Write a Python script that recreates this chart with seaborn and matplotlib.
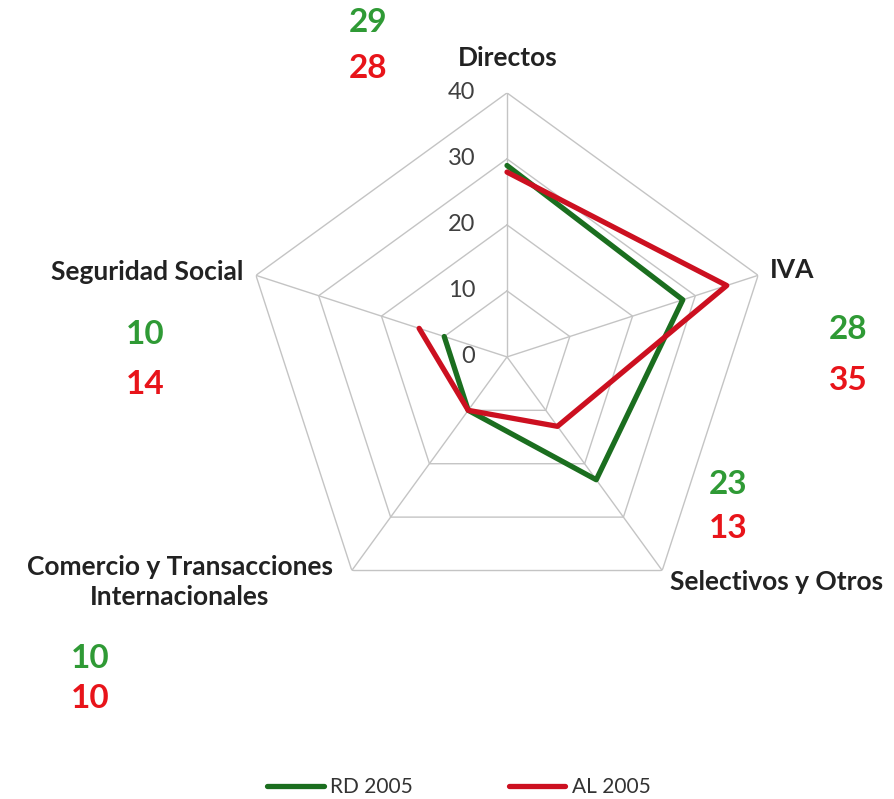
import matplotlib.pyplot as plt
import numpy as np
import pandas as pd
import seaborn as sns

sns.set_style('white')
plt.rcParams['font.family'] = ['Lato', 'DejaVu Sans']

categories = ['Directos', 'IVA', 'Selectivos y Otros',
              'Comercio y Transacciones\nInternacionales', 'Seguridad Social']
rd_2005 = [29, 28, 23, 10, 10]
al_2005 = [28, 35, 13, 10, 14]
series_names = ['RD 2005', 'AL 2005']
rings = [10, 20, 30, 40]
ring_labels = ['0', '10', '20', '30', '40']

line_colors = ['#1b6e1f', '#cc1020']
num_colors = ['#2f9a35', '#e8141a']

n = len(categories)
angles = np.linspace(0, 2 * np.pi, n, endpoint=False)
closed = np.append(angles, angles[0])

fig = plt.figure(figsize=(8.95, 7.99), dpi=100)
ax = fig.add_axes([0.2715, 0.2228, 0.590, 0.661], projection='polar')
ax.set_theta_offset(np.pi / 2)
ax.set_theta_direction(-1)
ax.set_ylim(0, 40)
ax.grid(False)
ax.spines['polar'].set_visible(False)
ax.set_xticks([])
ax.set_yticks([])

# polygon gridlines and spokes
for r in rings:
    ax.plot(closed, [r] * (n + 1), color='#c4c4c4', lw=1, zorder=1)
for a in angles:
    ax.plot([a, a], [0, 40], color='#c4c4c4', lw=1, zorder=1)

# radial tick labels
for i, lab in enumerate(ring_labels):
    ax.annotate(lab, (0, i * 10), xytext=(-23, 0), textcoords='offset points',
                ha='right', va='center', fontsize=17, color='#404040')

df = pd.DataFrame({
    'angle': np.concatenate([closed, closed]),
    'value': rd_2005 + rd_2005[:1] + al_2005 + al_2005[:1],
    'serie': [series_names[0]] * (n + 1) + [series_names[1]] * (n + 1),
})
sns.lineplot(data=df, x='angle', y='value', hue='serie', sort=False,
             palette=line_colors, lw=3.8, ax=ax, legend=False, zorder=3)
ax.set_xlabel('')
ax.set_ylabel('')

# category labels
lab_kw = dict(fontsize=19, color='#222222', fontweight='bold', va='center')
fig.text(508 / 895, 1 - 58 / 799, categories[0], ha='center', **lab_kw)
fig.text(770 / 895, 1 - 270 / 799, categories[1], ha='left', **lab_kw)
fig.text(670 / 895, 1 - 582 / 799, categories[2], ha='left', **lab_kw)
fig.text(180 / 895, 1 - 582 / 799, categories[3], ha='center',
         linespacing=1.3, **lab_kw)
fig.text(243 / 895, 1 - 272 / 799, categories[4], ha='right', **lab_kw)

# value labels
num_pos = [(368, 22, 68), (848, 330, 380), (728, 485, 528), (90, 658, 698), (145, 335, 385)]
for i, (x, y1, y2) in enumerate(num_pos):
    fig.text(x / 895, 1 - y1 / 799, str(rd_2005[i]), ha='center', va='center',
             fontsize=24, fontweight='bold', color=num_colors[0])
    fig.text(x / 895, 1 - y2 / 799, str(al_2005[i]), ha='center', va='center',
             fontsize=24, fontweight='bold', color=num_colors[1])

# legend
handles = [plt.Line2D([], [], color=c, lw=3.8) for c in line_colors]
fig.legend(handles, series_names, loc='center', bbox_to_anchor=(0.513, 1 - 787 / 799),
           ncol=2, frameon=False, fontsize=15, handlelength=2.7, columnspacing=4.6,
           handletextpad=0.33, labelcolor='#333333')

fig.savefig('out.png', dpi=100)
